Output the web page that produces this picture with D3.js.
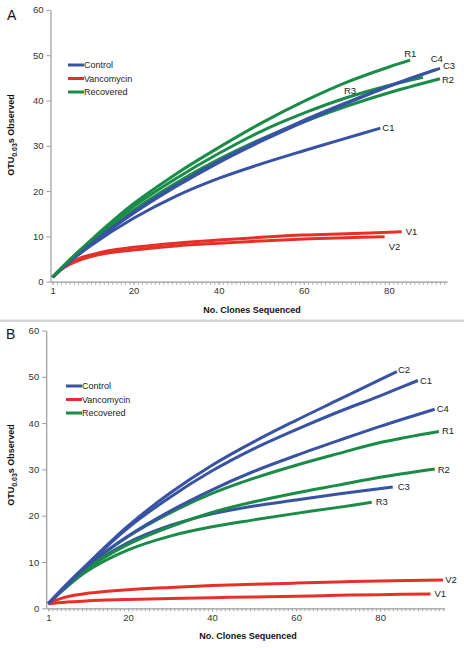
<!DOCTYPE html>
<html><head><meta charset="utf-8">
<script src="https://cdn.jsdelivr.net/npm/d3@7"></script>
<style>html,body{margin:0;padding:0;background:#fff;}svg{display:block;font-family:Arial,"Liberation Sans",sans-serif;}</style>
</head><body><svg id="chart" width="464" height="648"></svg>
<script>
// ---------- data ----------
const groups = ["Control", "Vancomycin", "Recovered"];
const yTicks = [0, 10, 20, 30, 40, 50, 60];
const xTickLabels = [1, 20, 40, 60, 80];

// Panel A
const A_C1_x = [1,5,10,20,30,40,50,60,70,78];
const A_C1_y = [1,4.4,8.0,14.0,18.9,22.8,26.0,28.9,31.7,33.9];
const A_C3_x = [1,5,10,20,30,40,50,60,70,80,92];
const A_C3_y = [1,4.5,8.3,15.1,21.0,26.3,31.0,35.3,39.3,43.1,47.1];
const A_C4_x = [1,5,10,20,30,40,50,60,70,80,91];
const A_C4_y = [1,4.5,8.4,15.3,21.3,26.6,31.3,35.6,39.5,43.2,46.8];
const A_R1_x = [1,5,10,20,30,40,50,60,70,80,85];
const A_R1_y = [1,4.8,9.2,17.2,23.8,29.6,35.0,39.8,44.0,47.4,48.9];
const A_R2_x = [1,5,10,20,30,40,50,60,70,80,92];
const A_R2_y = [1,4.7,8.7,15.8,21.8,27.0,31.5,35.3,38.7,41.7,44.8];
const A_R3_x = [1,5,10,20,30,40,50,60,70,80,88];
const A_R3_y = [1,4.8,9.0,16.6,22.8,28.3,33.2,37.2,40.6,43.3,45.1];
const A_V1_x = [1,3,5,8,12,16,20,30,40,50,60,70,83];
const A_V1_y = [1,2.8,4.0,5.4,6.4,7.1,7.6,8.5,9.2,9.8,10.3,10.6,11.0];
const A_V2_x = [1,3,5,8,12,16,20,30,40,50,60,70,79];
const A_V2_y = [1,2.7,3.8,5.0,6.0,6.6,7.0,7.9,8.5,9.0,9.4,9.7,9.9];

// Panel B
const B_C1_x = [1,5,10,20,30,40,50,60,70,80,89];
const B_C1_y = [1,4.8,9.2,17.4,24.0,29.7,34.5,38.6,42.4,45.9,49.2];
const B_C2_x = [1,5,10,20,30,40,50,60,70,80,84];
const B_C2_y = [1,4.8,9.3,17.8,24.9,30.9,36.0,40.6,45.0,49.4,51.1];
const B_C3_x = [1,5,10,20,30,40,50,60,70,83];
const B_C3_y = [1,4.5,8.5,14.2,17.9,20.4,22.1,23.4,24.7,26.2];
const B_C4_x = [1,5,10,20,30,40,50,60,70,80,93];
const B_C4_y = [1,4.6,9.0,15.6,21.0,25.6,29.6,33.0,36.2,39.3,43.0];
const B_R1_x = [1,5,10,20,30,40,50,60,70,80,94];
const B_R1_y = [1,4.6,8.8,15.5,20.6,24.8,28.1,30.9,33.4,35.8,38.2];
const B_R2_x = [1,5,10,20,30,40,50,60,70,80,93];
const B_R2_y = [1,4.5,8.4,13.8,17.6,20.7,23.0,24.9,26.6,28.3,30.1];
const B_R3_x = [1,5,10,20,30,40,50,60,70,78];
const B_R3_y = [1,4.3,7.9,12.6,15.6,17.6,19.1,20.5,21.8,22.9];
const B_V1_x = [1,5,10,20,30,40,50,60,70,80,92];
const B_V1_y = [1,1.3,1.6,1.9,2.1,2.3,2.45,2.6,2.8,2.95,3.1];
const B_V2_x = [1,3,5,10,20,30,40,50,60,70,80,95];
const B_V2_y = [1,1.8,2.4,3.2,4.0,4.5,4.9,5.2,5.45,5.7,5.9,6.1];

// ---------- styling / layout ----------
const colors = {Control: "#3953a4", Vancomycin: "#e5302a", Recovered: "#1a8c47"};
const groupOf = {C: "Control", V: "Vancomycin", R: "Recovered"};

const svg = d3.select("#chart");

function zipSeries(name, xs, ys) {
  return {name, group: groupOf[name[0]], pts: xs.map((x, i) => [x, ys[i]])};
}

const seriesA = [
  zipSeries("V1", A_V1_x, A_V1_y), zipSeries("V2", A_V2_x, A_V2_y),
  zipSeries("C1", A_C1_x, A_C1_y), zipSeries("R2", A_R2_x, A_R2_y),
  zipSeries("R3", A_R3_x, A_R3_y), zipSeries("C3", A_C3_x, A_C3_y),
  zipSeries("C4", A_C4_x, A_C4_y), zipSeries("R1", A_R1_x, A_R1_y)
];
const seriesB = [
  zipSeries("V1", B_V1_x, B_V1_y), zipSeries("V2", B_V2_x, B_V2_y),
  zipSeries("R3", B_R3_x, B_R3_y), zipSeries("C3", B_C3_x, B_C3_y),
  zipSeries("R2", B_R2_x, B_R2_y), zipSeries("R1", B_R1_x, B_R1_y),
  zipSeries("C4", B_C4_x, B_C4_y), zipSeries("C1", B_C1_x, B_C1_y),
  zipSeries("C2", B_C2_x, B_C2_y)
];

// label offsets (pixels) relative to series end point
const labelOffA = {R1:[-6,-3], C4:[-5,-8], C3:[3,1], R2:[2,4], R3:[null,null], C1:[2,3], V1:[4,3], V2:[4,13]};
const labelOffB = {C2:[1,1], C1:[2,3], C4:[2,3], R1:[3,3], R2:[3,4], C3:[5,3], R3:[4,3], V2:[2,3], V1:[4,3]};

function drawPanel(cfg) {
  const x = d3.scaleLinear().domain(cfg.xDomain).range(cfg.xRange);
  const y = d3.scaleLinear().domain([0, 60]).range(cfg.yRange);
  const g = svg.append("g");

  // y axis
  const ya = g.append("g").attr("transform", `translate(${cfg.xRange[0]},0)`)
    .call(d3.axisLeft(y).tickValues(yTicks).tickSize(4).tickSizeOuter(0).tickPadding(3));
  ya.select(".domain").attr("stroke", "#9a9a9a").attr("stroke-width", 1.2);
  ya.selectAll(".tick line").attr("stroke", "#9a9a9a");
  ya.selectAll("text").attr("font-size", 9.5).attr("fill", "#333").attr("font-family", "Arial, Liberation Sans");

  // x axis: minor ticks at every clone + labels
  const xMinor = d3.range(1, Math.floor(cfg.xDomain[1]) + 1);
  const xm = g.append("g").attr("transform", `translate(0,${cfg.yRange[0]})`)
    .call(d3.axisBottom(x).tickValues(xMinor).tickSize(3).tickSizeOuter(0).tickFormat(""));
  xm.select(".domain").attr("stroke", "#9a9a9a").attr("stroke-width", 1.2);
  xm.selectAll(".tick line").attr("stroke", "#a8a8a8");
  const xa = g.append("g").attr("transform", `translate(0,${cfg.yRange[0]})`)
    .call(d3.axisBottom(x).tickValues(xTickLabels).tickSize(3).tickSizeOuter(0).tickPadding(3));
  xa.select(".domain").remove();
  xa.selectAll(".tick line").attr("stroke", "#a8a8a8");
  xa.selectAll("text").attr("font-size", 9.5).attr("fill", "#333").attr("font-family", "Arial, Liberation Sans");

  // curves
  const line = d3.line().x(d => x(d[0])).y(d => y(d[1])).curve(d3.curveCatmullRom.alpha(0.5));
  g.append("g").selectAll("path").data(cfg.series).join("path")
    .attr("d", d => line(d.pts))
    .attr("fill", "none")
    .attr("stroke", d => colors[d.group])
    .attr("stroke-width", 3)
    .attr("stroke-linecap", "butt");

  // curve labels
  g.append("g").selectAll("text").data(cfg.series).join("text")
    .attr("x", d => {
      const o = cfg.labelOff[d.name];
      if (o[0] === null) return cfg.extraPos[d.name][0];
      return x(d.pts[d.pts.length - 1][0]) + o[0];
    })
    .attr("y", d => {
      const o = cfg.labelOff[d.name];
      if (o[1] === null) return cfg.extraPos[d.name][1];
      return y(d.pts[d.pts.length - 1][1]) + o[1];
    })
    .attr("font-size", 9.5).attr("fill", "#222")
    .text(d => d.name);

  // legend
  const lg = g.append("g").attr("transform", `translate(${cfg.legend[0]},${cfg.legend[1]})`);
  groups.forEach((grp, i) => {
    lg.append("line").attr("x1", 0).attr("x2", 16).attr("y1", i * 13.5).attr("y2", i * 13.5)
      .attr("stroke", colors[grp]).attr("stroke-width", 3);
    lg.append("text").attr("x", 16).attr("y", i * 13.5 + 3.3).attr("font-size", 9).attr("fill", "#222").text(grp);
  });

  // panel letter
  g.append("text").attr("x", cfg.letter[0]).attr("y", cfg.letter[1]).attr("font-size", 14).attr("fill", "#111").text(cfg.name);

  // x title
  g.append("text").attr("x", cfg.xTitle[0]).attr("y", cfg.xTitle[1]).attr("text-anchor", "middle")
    .attr("font-size", 9).attr("font-weight", "bold").attr("fill", "#111").text("No. Clones Sequenced");

  // y title
  const yt = g.append("text").attr("transform", `translate(${cfg.yTitle[0]},${cfg.yTitle[1]}) rotate(-90)`)
    .attr("text-anchor", "middle").attr("font-size", 9).attr("font-weight", "bold").attr("fill", "#111");
  yt.append("tspan").text("OTU");
  yt.append("tspan").attr("font-size", 7).attr("dy", 2.5).text("0.03");
  yt.append("tspan").attr("dy", -2.5).text("s Observed");
}

drawPanel({
  name: "A", series: seriesA,
  xDomain: [0.5, 93.7], xRange: [50.5, 447.2], yRange: [281.7, 9.9],
  labelOff: labelOffA, extraPos: {R3: [344, 94]},
  legend: [68, 65], letter: [7, 20], xTitle: [252, 313], yTitle: [14, 135]
});

// divider
svg.append("rect").attr("x", 0).attr("y", 319.5).attr("width", 464).attr("height", 2.5).attr("fill", "#d4d4d4");

drawPanel({
  name: "B", series: seriesB,
  xDomain: [0.5, 95.3], xRange: [46.2, 444.4], yRange: [608.3, 330.5],
  labelOff: labelOffB, extraPos: {},
  legend: [66, 386], letter: [6, 339], xTitle: [248, 639], yTitle: [14, 465]
});
</script></body></html>
